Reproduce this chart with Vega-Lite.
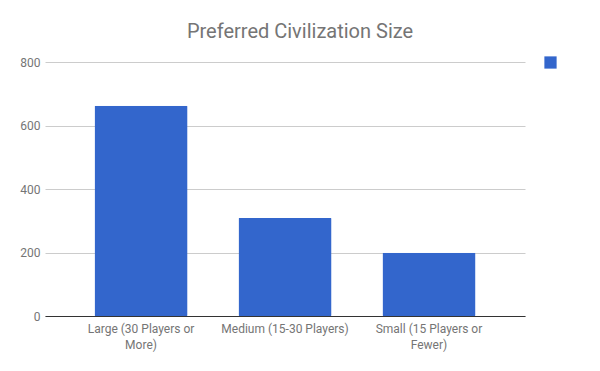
{
  "$schema": "https://vega.github.io/schema/vega-lite/v6.json",
  "autosize": "none",
  "width": 480,
  "height": 254,
  "padding": {"left": 45, "top": 62, "right": 75, "bottom": 55},
  "background": "white",
  "title": {
    "text": "Preferred Civilization Size",
    "font": "Roboto",
    "fontSize": 20,
    "fontWeight": "normal",
    "color": "#757575",
    "anchor": "middle",
    "dx": 15,
    "offset": 14
  },
  "data": {
    "values": [
      {"size": "Large (30 Players or More)", "count": 662},
      {"size": "Medium (15-30 Players)", "count": 309},
      {"size": "Small (15 Players or Fewer)", "count": 199}
    ]
  },
  "mark": {"type": "bar", "cornerRadius": 1},
  "encoding": {
    "x": {
      "field": "size",
      "type": "nominal",
      "sort": null,
      "scale": {"paddingInner": 0.354, "paddingOuter": 0.344},
      "axis": {
        "title": null,
        "labelAngle": 0,
        "ticks": false,
        "domainColor": "#333333",
        "labelFont": "Roboto",
        "labelFontSize": 12,
        "labelColor": "#757575",
        "labelPadding": 7,
        "labelLimit": 300,
        "labelLineHeight": 16,
        "labelExpr": "datum.value == 'Large (30 Players or More)' ? ['Large (30 Players or', 'More)'] : datum.value == 'Small (15 Players or Fewer)' ? ['Small (15 Players or', 'Fewer)'] : datum.value"
      }
    },
    "y": {
      "field": "count",
      "type": "quantitative",
      "scale": {"domain": [0, 800]},
      "axis": {
        "title": null,
        "values": [0, 200, 400, 600, 800],
        "domain": false,
        "ticks": false,
        "gridColor": "#cccccc",
        "labelFont": "Roboto",
        "labelFontSize": 12,
        "labelColor": "#757575",
        "labelPadding": 5
      }
    },
    "color": {
      "datum": "count",
      "type": "nominal",
      "scale": {"range": ["#3366cc"]},
      "legend": {
        "title": null,
        "orient": "none",
        "legendX": 499,
        "legendY": -6,
        "symbolType": "square",
        "symbolSize": 150,
        "symbolStrokeWidth": 0,
        "labelExpr": "''"
      }
    }
  },
  "config": {"view": {"stroke": null}}
}
